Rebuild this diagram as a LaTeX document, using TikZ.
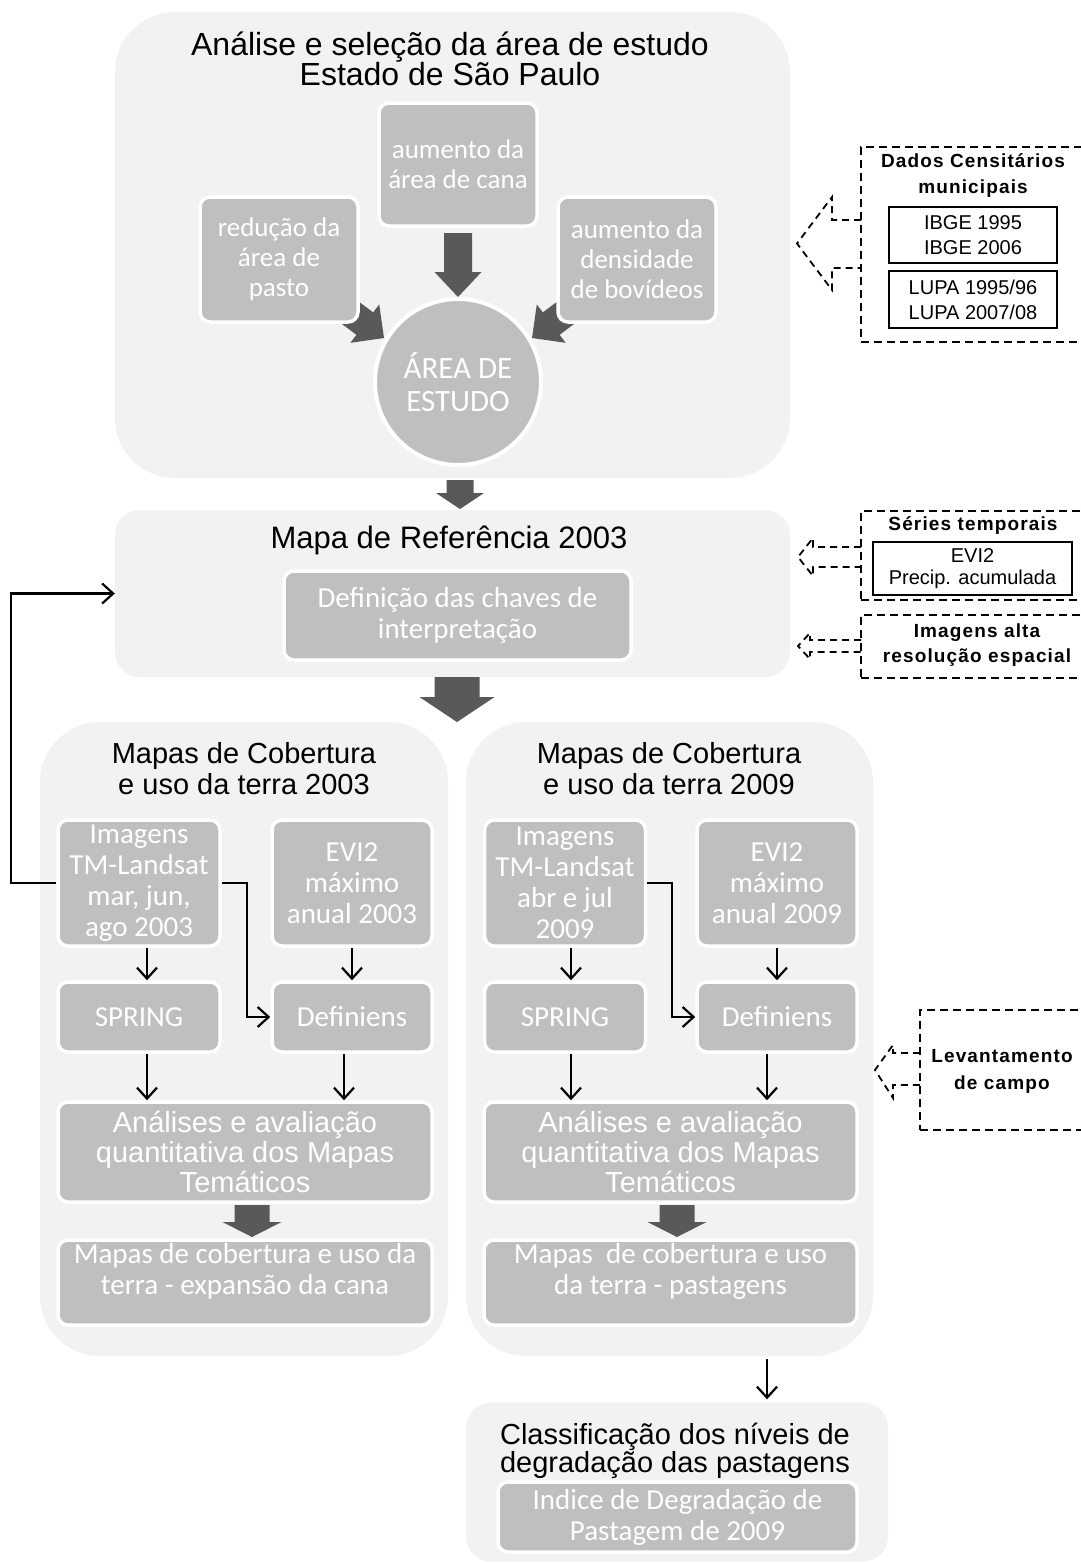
\documentclass[tikz,border=0pt]{standalone}
\usepackage{fontspec}
\setmainfont{Liberation Sans}
\newfontfamily\calfont{Carlito}
\newfontfamily\spfont[LetterSpace=6]{Liberation Sans}
\usetikzlibrary{arrows.meta}
\definecolor{panelg}{HTML}{F2F2F2}
\definecolor{boxg}{HTML}{BFBFBF}
\definecolor{arrg}{HTML}{595959}
\newcommand\blkdown[6]{%
  \fill[arrg] (#1-#5,#2) -- (#1+#5,#2) -- (#1+#5,#3) -- (#1+#6,#3) -- (#1,#4) -- (#1-#6,#3) -- (#1-#5,#3) -- cycle;}
\begin{document}
\begin{tikzpicture}[x=1pt,y=-1pt,
  panel/.style={fill=panelg, draw=none, inner sep=0pt},
  gbox/.style={fill=boxg, draw=white, line width=3.5pt, rounded corners=10pt, inner sep=0pt, text=white, align=center, font=\calfont\fontsize{29}{31}\selectfont},
  gboxs/.style={gbox, font=\calfont\fontsize{27}{30}\selectfont},
  wtext/.style={text=white, align=center, inner sep=0pt, font=\calfont\fontsize{29}{31}\selectfont},
  ttl/.style={align=center, inner sep=0pt, font=\fontsize{29}{31}\selectfont},
  thinarr/.style={line width=2.2pt, -{Straight Barb[length=11pt,width=20pt]}},
  dbox/.style={draw=black, line width=1.8pt, dash pattern=on 8pt off 5pt, inner sep=0pt},
  sbox/.style={draw=black, line width=1.6pt, inner sep=0pt, align=center, font=\fontsize{20}{25}\selectfont},
  btxt/.style={align=center, inner sep=0pt, font=\spfont\bfseries\fontsize{19}{26}\selectfont},
  dcall/.style={draw=black, line width=1.8pt, dash pattern=on 7pt off 5pt}
]
\useasboundingbox (0,0) rectangle (1081,1564);
\clip (0,0) rectangle (1081,1564);

% ---------- panels ----------
\node[panel, rounded corners=60pt, minimum width=675pt, minimum height=466pt] (P1) at (452.5,245) {};
\node[panel, rounded corners=25pt, minimum width=675pt, minimum height=167pt] (P2) at (452.5,593.5) {};
\node[panel, rounded corners=60pt, minimum width=408pt, minimum height=634pt] (P3L) at (244,1039) {};
\node[panel, rounded corners=60pt, minimum width=407pt, minimum height=634pt] (P3R) at (669.5,1039) {};
\node[panel, rounded corners=25pt, minimum width=422pt, minimum height=159pt] (P4) at (677,1482) {};

% ---------- titles ----------
\node[ttl, font=\fontsize{32}{30}\selectfont] (T1) at (450,59) {Análise e seleção da área de estudo\\Estado de São Paulo};
\node[ttl, font=\fontsize{31}{31}\selectfont] (T2) at (449,540) {Mapa de Referência 2003};
\node[ttl] (T3L) at (244,769) {Mapas de Cobertura\\e uso da terra 2003};
\node[ttl] (T3R) at (669,769) {Mapas de Cobertura\\e uso da terra 2009};
\node[ttl, font=\fontsize{29}{26}\selectfont] (T4) at (675,1451) {Classificação dos níveis de\\degradação das pastagens};

% ---------- diagonal block arrows (under boxes) ----------
\fill[arrg] (309.2,264.4) -- (373.2,312.4) -- (379.2,304.4) -- (384,338) -- (350.4,342.8) -- (356.4,334.8) -- (292.4,286.8) -- cycle;
\fill[arrg] (606.8,264.4) -- (542.8,312.4) -- (536.8,304.4) -- (532,338) -- (565.6,342.8) -- (559.6,334.8) -- (623.6,286.8) -- cycle;

% ---------- top panel boxes ----------
\node[gboxs, minimum width=158pt, minimum height=123pt] (Cana) at (458,164.5) {aumento da\\área de cana};
\node[gboxs, minimum width=158pt, minimum height=125pt] (Pasto) at (279,259.5) {redução da\\área de\\pasto};
\node[gboxs, minimum width=158pt, minimum height=125pt] (Bov) at (637,259.5) {aumento da\\densidade\\de bovídeos};
\node[circle, fill=boxg, draw=white, line width=4pt, minimum size=166pt, inner sep=0pt, text=white, align=center, font=\calfont\fontsize{31}{33}\selectfont] (Area) at (458,382) {ÁREA DE\\ESTUDO};
\blkdown{458}{233}{272}{297}{14}{23.5}

% ---------- block arrows between panels ----------
\blkdown{460}{480}{493}{509}{13.5}{24}
\blkdown{457}{677}{697}{722}{22.5}{37.5}

% ---------- panel 2 ----------
\node[gbox, minimum width=347pt, minimum height=89pt] (Chaves) at (457.5,615.5) {Definição das chaves de\\interpretação};

% ---------- left panel 3 ----------
\node[gbox, minimum width=162pt, minimum height=126pt] (ImgL) at (139,883) {Imagens\\TM-Landsat\\mar, jun,\\ago 2003};
\node[gbox, minimum width=160pt, minimum height=126pt] (EviL) at (352,883) {EVI2\\máximo\\anual 2003};
\node[gbox, minimum width=162pt, minimum height=70pt] (SpL) at (139,1017) {SPRING};
\node[gbox, minimum width=160pt, minimum height=70pt] (DefL) at (352,1017) {Definiens};
\node[gbox, minimum width=374pt, minimum height=100pt, font=\fontsize{29}{30}\selectfont] (AnL) at (245,1152) {Análises e avaliação\\quantitativa dos Mapas\\Temáticos};
\node[gbox, minimum width=374pt, minimum height=85pt] (MapL) at (245,1282.5) {};
\node[wtext] (MapLt) at (245,1271) {Mapas de cobertura e uso da\\terra - expansão da cana};
\blkdown{252}{1205}{1222}{1237}{17.5}{29.5}

% ---------- right panel 3 ----------
\node[gbox, minimum width=161pt, minimum height=126pt] (ImgR) at (565,883) {Imagens\\TM-Landsat\\abr e jul\\2009};
\node[gbox, minimum width=160pt, minimum height=126pt] (EviR) at (777,883) {EVI2\\máximo\\anual 2009};
\node[gbox, minimum width=161pt, minimum height=70pt] (SpR) at (565,1017) {SPRING};
\node[gbox, minimum width=160pt, minimum height=70pt] (DefR) at (777,1017) {Definiens};
\node[gbox, minimum width=373pt, minimum height=100pt, font=\fontsize{29}{30}\selectfont] (AnR) at (670.5,1152) {Análises e avaliação\\quantitativa dos Mapas\\Temáticos};
\node[gbox, minimum width=373pt, minimum height=85pt] (MapR) at (670.5,1282.5) {};
\node[wtext] (MapRt) at (670.5,1271) {Mapas~ de cobertura e uso\\da terra - pastagens};
\blkdown{677}{1205}{1222}{1237}{17.5}{29.5}

% ---------- bottom panel ----------
\node[gbox, minimum width=359pt, minimum height=70pt] (Idx) at (677.5,1517) {Indice de Degradação de\\Pastagem de 2009};

% ---------- thin connectors ----------
\draw[thinarr] ([xshift=8pt]ImgL.south) -- ([xshift=8pt]SpL.north);
\draw[thinarr] (EviL.south) -- (DefL.north);
\draw[thinarr] ([xshift=8pt]SpL.south) -- ([xshift=8pt]SpL.south |- AnL.north);
\draw[thinarr] ([xshift=-8pt]DefL.south) -- ([xshift=-8pt]DefL.south |- AnL.north);
\draw[thinarr] (ImgL.east) -- ++(25,0) |- (DefL.west);
\draw[thinarr] (ImgL.west) -- ++(-45,0) |- (P2.west);

\draw[thinarr] ([xshift=6pt]ImgR.south) -- ([xshift=6pt]SpR.north);
\draw[thinarr] (EviR.south) -- (DefR.north);
\draw[thinarr] ([xshift=6pt]SpR.south) -- ([xshift=6pt]SpR.south |- AnR.north);
\draw[thinarr] ([xshift=-10pt]DefR.south) -- ([xshift=-10pt]DefR.south |- AnR.north);
\draw[thinarr] (ImgR.east) -- ++(25,0) |- (DefR.west);
\draw[thinarr, shorten <=3pt, shorten >=3pt] ([xshift=97.5pt]P3R.south) -- ([xshift=97.5pt]P3R.south |- P4.north);

% ---------- side callouts ----------
\node[dbox, minimum width=234pt, minimum height=195pt] (Dados) at (978,244.5) {};
\node[btxt] (DadosT) at (973,175) {Dados Censitários\\municipais};
\node[sbox, minimum width=168pt, minimum height=56pt] (IBGE) at (973,235) {IBGE 1995\\IBGE 2006};
\node[sbox, minimum width=168pt, minimum height=57pt] (LUPA) at (973,299.5) {LUPA 1995/96\\LUPA 2007/08};
\draw[dcall] (861,220) -- (832,220) -- (832,197) -- (797,243.5) -- (832,290) -- (832,268) -- (861,268);

\node[dbox, minimum width=234pt, minimum height=89pt] (Series) at (978,555.5) {};
\node[btxt] (SeriesT) at (973,525) {Séries temporais};
\node[sbox, minimum width=199pt, minimum height=53pt, font=\fontsize{20}{22}\selectfont] (EviS) at (972.5,568.5) {EVI2\\Precip. acumulada};
\draw[dcall] (861,547) -- (813,547) -- (813,538) -- (798,557) -- (813,576) -- (813,567) -- (861,567);

\node[dbox, minimum width=234pt, minimum height=63pt] (Alta) at (978,646.5) {};
\node[btxt, font=\spfont\bfseries\fontsize{19}{25}\selectfont] (AltaT) at (977,645) {Imagens alta\\resolução espacial};
\draw[dcall] (861,640) -- (810,640) -- (810,633) -- (798,646) -- (810,659) -- (810,652) -- (861,652);

\node[dbox, minimum width=175pt, minimum height=120pt] (Campo) at (1007.5,1070) {};
\node[btxt, font=\spfont\bfseries\fontsize{19}{27}\selectfont] (CampoT) at (1002,1071) {Levantamento\\de campo};
\draw[dcall] (920,1053) -- (893,1053) -- (893,1045) -- (875,1070) -- (893,1098) -- (893,1085) -- (920,1085);
\end{tikzpicture}
\end{document}
